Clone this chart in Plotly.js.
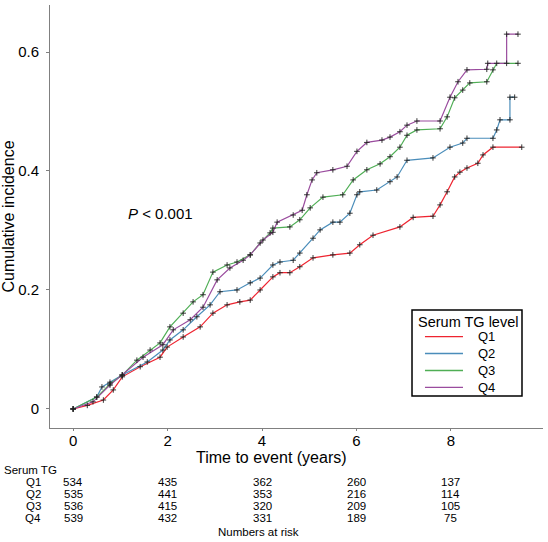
<!DOCTYPE html>
<html>
<head>
<meta charset="utf-8">
<script src="https://cdn.plot.ly/plotly-3.0.1.min.js"></script>
<style>
  html, body { margin: 0; padding: 0; background: #fff; }
  #graph1 { width: 548px; height: 542px; }
</style>
</head>
<body>
<div id="graph1"></div>
<script>
// cumulative incidence curves
var q1Time = [0, 0.3, 0.64, 0.85, 1.04, 1.42, 1.84, 1.99, 2.33, 2.69, 2.96, 3.26, 3.53, 3.75, 3.96, 4.23, 4.38, 4.59, 4.80, 5.08, 5.50, 5.86, 6.07, 6.35, 6.92, 7.20, 7.62, 7.77, 7.92, 8.08, 8.19, 8.34, 8.57, 8.68, 8.89, 9.50];
var q1Inc = [0, 0.006, 0.015, 0.032, 0.054, 0.071, 0.087, 0.104, 0.121, 0.138, 0.161, 0.175, 0.180, 0.183, 0.200, 0.222, 0.229, 0.229, 0.239, 0.254, 0.259, 0.262, 0.276, 0.292, 0.306, 0.322, 0.324, 0.343, 0.365, 0.390, 0.398, 0.405, 0.413, 0.427, 0.440, 0.440];

var q2Time = [0, 0.5, 0.61, 0.78, 1.04, 1.57, 1.90, 2.05, 2.33, 2.62, 2.90, 3.11, 3.47, 3.75, 3.96, 4.23, 4.38, 4.66, 4.80, 5.08, 5.23, 5.50, 5.65, 5.86, 6.01, 6.07, 6.43, 6.71, 6.86, 7.07, 7.62, 7.98, 8.25, 8.34, 8.89, 8.97, 9.04, 9.25, 9.25, 9.35];
var q2Inc = [0, 0.020, 0.037, 0.045, 0.057, 0.079, 0.099, 0.116, 0.133, 0.155, 0.175, 0.197, 0.200, 0.212, 0.220, 0.242, 0.247, 0.250, 0.262, 0.287, 0.301, 0.314, 0.314, 0.329, 0.360, 0.365, 0.368, 0.382, 0.390, 0.418, 0.422, 0.440, 0.447, 0.455, 0.455, 0.469, 0.486, 0.486, 0.524, 0.524];

var q3Time = [0, 0.5, 0.78, 1.04, 1.35, 1.63, 1.84, 2.05, 2.33, 2.54, 2.75, 2.96, 3.26, 3.47, 3.75, 3.96, 4.17, 4.23, 4.59, 4.80, 5.02, 5.29, 5.71, 5.93, 6.22, 6.50, 6.71, 6.92, 7.07, 7.28, 7.77, 7.92, 8.08, 8.25, 8.40, 8.76, 8.89, 8.97, 9.42];
var q3Inc = [0, 0.020, 0.042, 0.057, 0.082, 0.099, 0.111, 0.138, 0.161, 0.180, 0.192, 0.230, 0.242, 0.247, 0.259, 0.279, 0.296, 0.304, 0.306, 0.318, 0.338, 0.356, 0.360, 0.385, 0.402, 0.412, 0.424, 0.440, 0.460, 0.469, 0.471, 0.491, 0.523, 0.536, 0.548, 0.550, 0.570, 0.581, 0.581];

var q4Time = [0, 0.42, 0.78, 1.04, 1.48, 1.90, 2.12, 2.48, 2.75, 3.05, 3.32, 3.60, 3.75, 4.02, 4.23, 4.32, 4.66, 4.85, 4.95, 5.06, 5.16, 5.50, 5.80, 6.01, 6.22, 6.54, 6.71, 6.92, 7.07, 7.28, 7.77, 7.98, 8.15, 8.34, 8.76, 8.78, 9.18, 9.18, 9.42];
var q4Inc = [0, 0.012, 0.040, 0.057, 0.087, 0.108, 0.133, 0.150, 0.171, 0.217, 0.237, 0.250, 0.259, 0.284, 0.297, 0.314, 0.326, 0.334, 0.360, 0.385, 0.397, 0.402, 0.408, 0.433, 0.448, 0.452, 0.457, 0.466, 0.477, 0.484, 0.484, 0.524, 0.550, 0.570, 0.571, 0.581, 0.581, 0.630, 0.630];

var groupNames = ['Q1', 'Q2', 'Q3', 'Q4'];
var groupColors = ['#ee2430', '#4a8dba', '#4fae55', '#9a4c9e'];

// numbers at risk table
var riskTimes = [0, 2, 4, 6, 8];
var riskQ1 = [534, 435, 362, 260, 137];
var riskQ2 = [535, 441, 353, 216, 114];
var riskQ3 = [536, 415, 320, 209, 105];
var riskQ4 = [539, 432, 331, 189, 75];

var font = 'Liberation Sans, Arial, sans-serif';

function txt(text, x, y, xref, size, anchor) {
  return {
    text: text, x: x, y: y, xref: xref, yref: 'paper',
    xanchor: anchor || 'center', yanchor: 'middle', showarrow: false,
    font: { family: font, size: size, color: '#000' }
  };
}

function buildGraph1() {
  var times = [q1Time, q2Time, q3Time, q4Time];
  var incs = [q1Inc, q2Inc, q3Inc, q4Inc];
  var data = [];
  for (var i = 0; i < 4; i++) {
    data.push({
      x: times[i],
      y: incs[i],
      name: groupNames[i],
      type: 'scatter',
      mode: 'lines',
      showlegend: false,
      line: { color: groupColors[i], width: 1.2 },
      hoverinfo: 'skip'
    });
  }
  // censoring ticks
  for (var i = 0; i < 4; i++) {
    data.push({
      x: times[i],
      y: incs[i],
      type: 'scatter',
      mode: 'markers',
      showlegend: false,
      marker: { symbol: 'cross-thin', size: 4, line: { color: '#222', width: 0.9 } },
      hoverinfo: 'skip'
    });
  }

  var annotations = [];
  var shapes = [];
  annotations.push({
    text: '<i>P</i> < 0.001', x: 1.12, y: 0.329, xref: 'x', yref: 'y',
    xanchor: 'left', yanchor: 'middle', showarrow: false,
    font: { family: font, size: 15, color: '#000' }
  });
  annotations.push(txt('Time to event (years)', 0.449, -0.0686, 'paper', 16));

  // legend box drawn by hand so the rows sit as tight as in the original
  shapes.push({
    type: 'rect', xref: 'paper', yref: 'paper',
    x0: 0.7343, x1: 0.9574, y0: 0.0757, y1: 0.279,
    line: { color: '#000', width: 1.5 }, fillcolor: '#fff', layer: 'above'
  });
  var keyY = [0.2161, 0.1761, 0.1359, 0.0960];
  for (var k = 0; k < 4; k++) {
    shapes.push({
      type: 'line', xref: 'paper', yref: 'paper',
      x0: 0.7606, x1: 0.8377, y0: keyY[k], y1: keyY[k],
      line: { color: groupColors[k], width: 1.3 }, layer: 'above'
    });
  }
  annotations.push(txt('Serum TG level', 0.8469, 0.2506, 'paper', 14.5));
  annotations.push(txt(groupNames.join('<br>'), 0.8864, 0.156, 'paper', 13));

  var risk = [riskQ1, riskQ2, riskQ3, riskQ4];
  var rowY = [-0.1277, -0.1560, -0.1844, -0.2128];
  annotations.push(txt('Serum TG', -0.097, -0.0993, 'paper', 11.5, 'left'));
  for (var r = 0; r < 4; r++) {
    annotations.push(txt(groupNames[r], -0.034, rowY[r], 'paper', 11.5));
    for (var j = 0; j < riskTimes.length; j++) {
      annotations.push(txt(String(risk[r][j]), riskTimes[j], rowY[r], 'x', 11.5));
    }
  }
  annotations.push(txt('Numbers at risk', 0.422, -0.2459, 'paper', 11.5));

  var axisStyle = {
    showgrid: false, zeroline: false, showline: true,
    linecolor: '#808080', linewidth: 1,
    ticks: 'outside', ticklen: 3, tickcolor: '#808080',
    tickfont: { family: font, size: 15, color: '#000' }
  };

  var layout = {
    width: 548, height: 542,
    margin: { l: 50, r: 5, t: 5, b: 114 },
    paper_bgcolor: '#fff', plot_bgcolor: '#fff',
    font: { family: font, color: '#000' },
    xaxis: Object.assign({}, axisStyle, {
      range: [-0.49, 9.95], tick0: 0, dtick: 2, ticklen: 2, ticklabelstandoff: -3
    }),
    yaxis: Object.assign({}, axisStyle, {
      range: [-0.032, 0.679], tick0: 0, dtick: 0.2, ticklabelstandoff: 4,
      title: { text: 'Cumulative incidence', font: { family: font, size: 16 }, standoff: 1 }
    }),
    annotations: annotations,
    shapes: shapes,
    showlegend: false
  };

  Plotly.newPlot('graph1', data, layout, { displayModeBar: false, staticPlot: true });
}

buildGraph1();
</script>
</body>
</html>
